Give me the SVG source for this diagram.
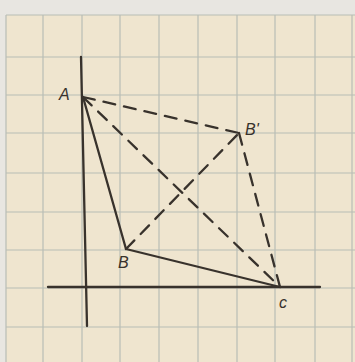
<svg xmlns="http://www.w3.org/2000/svg" width="355" height="362" viewBox="0 0 355 362">
<style>
.grid{stroke:#b7bdb5;stroke-width:1.2;fill:none}
.solid{stroke:#38322c;stroke-width:2.3;fill:none;stroke-linecap:round}
.dash{stroke:#38322c;stroke-width:2.3;fill:none;stroke-dasharray:12 9;stroke-linecap:round}
.lbl{font-family:"Liberation Sans",Arial,sans-serif;font-size:16px;fill:#38322c;font-style:italic}
</style>
<rect x="0" y="0" width="355" height="362" fill="#e8e6e1"/>
<rect x="6" y="15" width="349" height="347" fill="#efe5cf"/>
<g id="grid" class="grid">
<line x1="6" y1="15" x2="6" y2="362"/>
<line x1="43" y1="15" x2="43" y2="362"/>
<line x1="82" y1="15" x2="82" y2="362"/>
<line x1="120" y1="15" x2="120" y2="362"/>
<line x1="159" y1="15" x2="159" y2="362"/>
<line x1="198" y1="15" x2="198" y2="362"/>
<line x1="237" y1="15" x2="237" y2="362"/>
<line x1="275" y1="15" x2="275" y2="362"/>
<line x1="315" y1="15" x2="315" y2="362"/>
<line x1="352" y1="15" x2="352" y2="362"/>
<line x1="6" y1="15" x2="355" y2="15"/>
<line x1="6" y1="57" x2="355" y2="57"/>
<line x1="6" y1="95" x2="355" y2="95"/>
<line x1="6" y1="133" x2="355" y2="133"/>
<line x1="6" y1="173" x2="355" y2="173"/>
<line x1="6" y1="212" x2="355" y2="212"/>
<line x1="6" y1="250" x2="355" y2="250"/>
<line x1="6" y1="288" x2="355" y2="288"/>
<line x1="6" y1="327" x2="355" y2="327"/>
</g>
<g id="axes">
<line class="solid" x1="81" y1="57" x2="87" y2="326"/>
<line class="solid" x1="48" y1="287" x2="320" y2="287"/>
</g>
<g id="connectors">
<line class="solid" x1="83" y1="97" x2="126" y2="249"/>
<line class="solid" x1="126" y1="249" x2="280" y2="287"/>
<line class="dash" x1="83" y1="97" x2="239" y2="133"/>
<line class="dash" x1="83" y1="97" x2="280" y2="287"/>
<line class="dash" x1="239" y1="133" x2="280" y2="287"/>
<line class="dash" x1="126" y1="249" x2="239" y2="133"/>
</g>
<g id="node-A"><text class="lbl" x="59" y="100">A</text></g>
<g id="node-Bp"><text class="lbl" x="245" y="135">B'</text></g>
<g id="node-B"><text class="lbl" x="118" y="268">B</text></g>
<g id="node-C"><text class="lbl" x="279" y="308">c</text></g>
</svg>
